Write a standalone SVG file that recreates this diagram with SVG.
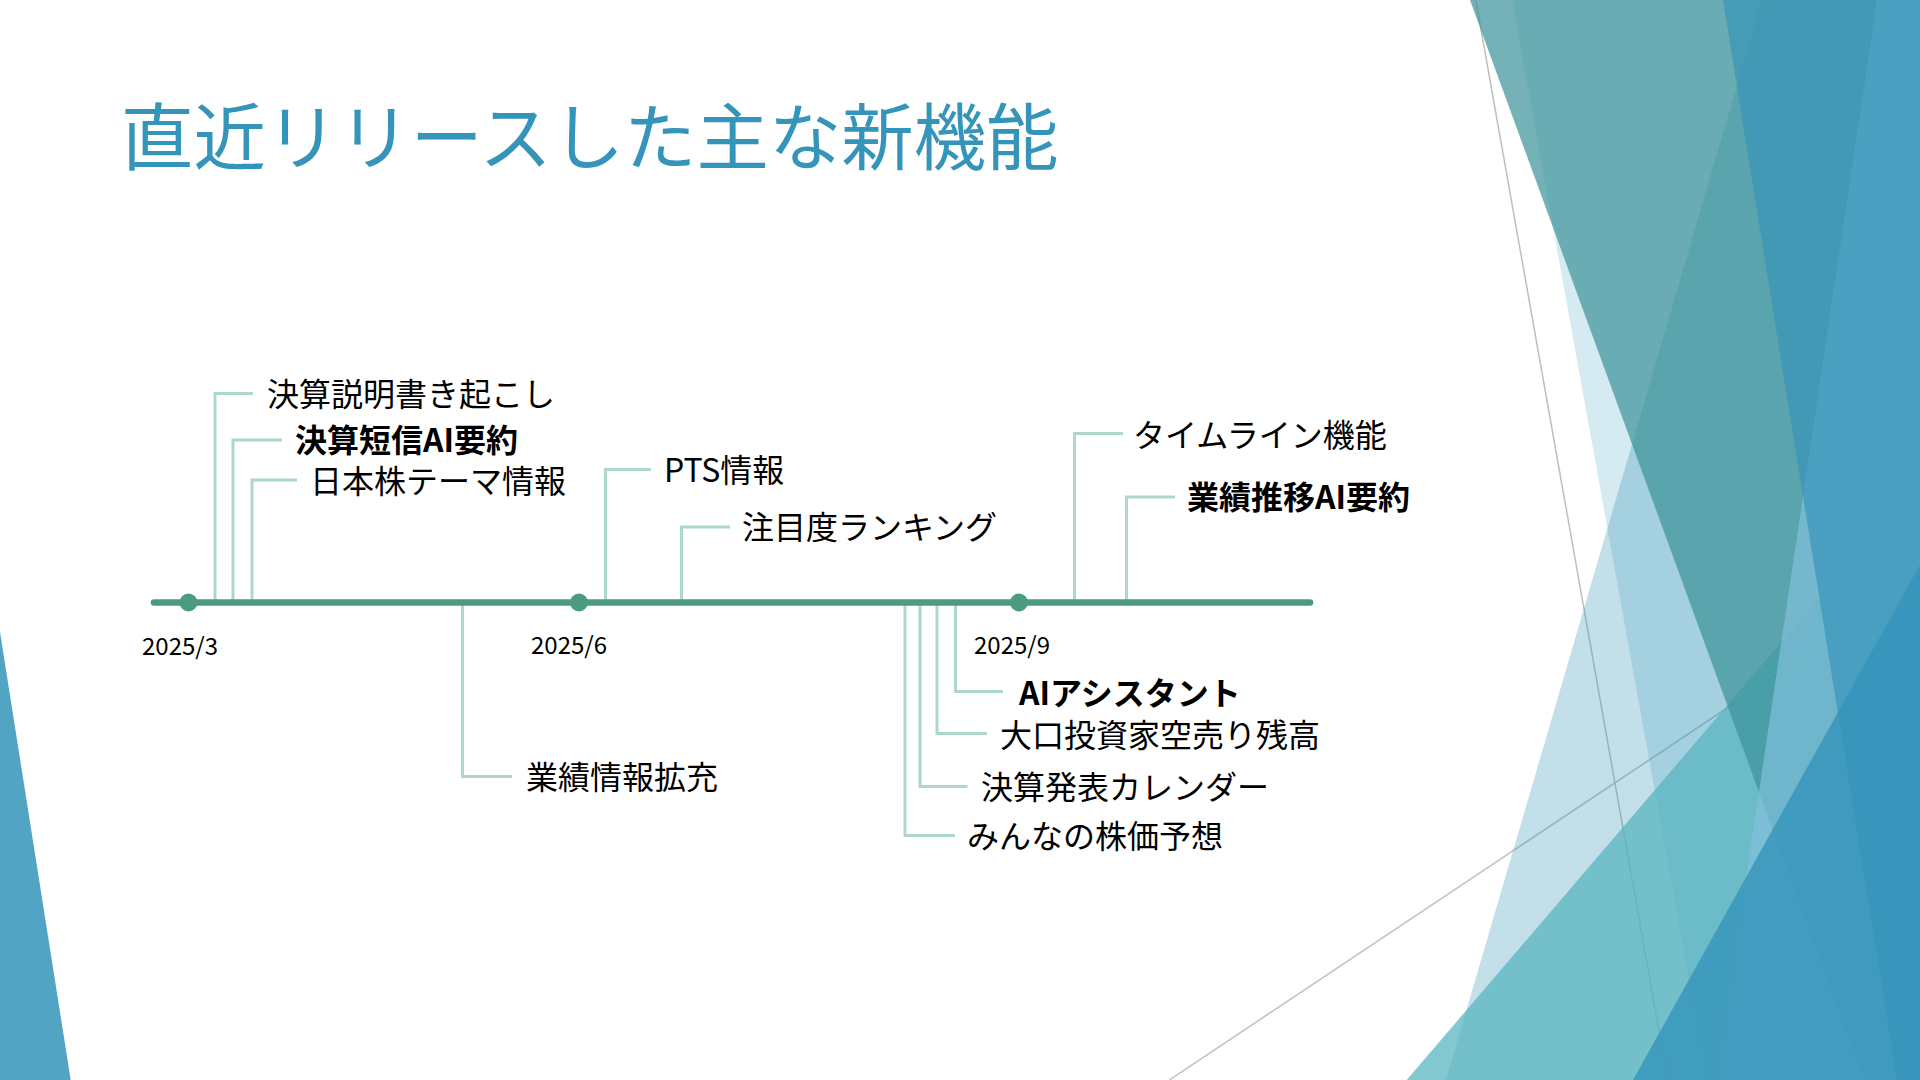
<svg xmlns="http://www.w3.org/2000/svg" width="1920" height="1080" viewBox="0 0 1920 1080">
  <style>
    .bgline { stroke: #bfbfbf; stroke-width: 1.5; fill: none; }
    .a1 { fill: #3494BA; }
    .title { font-family: "Noto Sans CJK JP", "Noto Sans", sans-serif; font-size: 72.4px; fill: #3494BA; }
    .lbl { font-family: "Noto Sans CJK JP", "Noto Sans", sans-serif; font-size: 32px; fill: #000000; }
    .b { font-weight: bold; }
    .date { font-family: "Noto Sans CJK JP", "Noto Sans", sans-serif; font-size: 24px; fill: #000000; }
    .conn { stroke: #acd7ca; stroke-width: 3; fill: none; stroke-linejoin: miter; }
    .axis { stroke: #4a9b82; stroke-width: 6.5; stroke-linecap: round; fill: none; }
    .dot { fill: #4a9b82; }
  </style>
  <rect x="0" y="0" width="1920" height="1080" fill="#ffffff"/>
  <g id="background">
    <line class="bgline" x1="1475.75" y1="0" x2="1667.75" y2="1080"/>
    <line class="bgline" x1="1919.5" y1="579.75" x2="1169.3" y2="1080"/>
    <polygon class="a1" fill-opacity="0.3" points="1762,0 1920,0 1920,1080 1446,1080"/>
    <polygon class="a1" fill-opacity="0.2" points="1512,0 1920,0 1920,1080 1707,1080"/>
    <polygon fill="#58B6C0" fill-opacity="0.75" points="1406.7,1080 1920,480 1920,1080"/>
    <polygon fill="#3A9198" fill-opacity="0.7" points="1470,0 1920,0 1920,1080 1864,1080"/>
    <polygon fill="#80C1DB" fill-opacity="0.7" points="1877,0 1920,0 1920,1080 1716,1080"/>
    <polygon class="a1" fill-opacity="0.65" points="1723,0 1920,0 1920,1080 1897,1080"/>
    <polygon class="a1" fill-opacity="0.8" points="1633,1080 1920,565 1920,1080"/>
    <polygon class="a1" fill-opacity="0.85" points="0,632 70.7,1080 0,1080"/>
  </g>
  <g id="title">
    <text class="title" x="121" y="164">直近リリースした主な新機能</text>
  </g>
  <g id="connectors">
    <polyline class="conn" points="215,602 215,393.5 253,393.5"/>
    <polyline class="conn" points="233,602 233,440 282,440"/>
    <polyline class="conn" points="252,602 252,480 297,480"/>
    <polyline class="conn" points="605.5,602 605.5,469.5 651,469.5"/>
    <polyline class="conn" points="681.5,602 681.5,527 730,527"/>
    <polyline class="conn" points="462.5,602 462.5,776.5 512,776.5"/>
    <polyline class="conn" points="1074.5,602 1074.5,433.5 1123,433.5"/>
    <polyline class="conn" points="1126.5,602 1126.5,497 1175,497"/>
    <polyline class="conn" points="955.5,602 955.5,691.5 1003,691.5"/>
    <polyline class="conn" points="937,602 937,733.5 987,733.5"/>
    <polyline class="conn" points="920,602 920,786.5 967.5,786.5"/>
    <polyline class="conn" points="905,602 905,835.5 955,835.5"/>
  </g>
  <g id="timeline">
    <line class="axis" x1="154" y1="602.5" x2="1310" y2="602.5"/>
  </g>
  <g id="m-2025-3">
    <circle class="dot" cx="188.5" cy="602.5" r="9"/>
    <text class="date" x="142" y="655">2025/3</text>
  </g>
  <g id="m-2025-6">
    <circle class="dot" cx="579" cy="602.5" r="9"/>
    <text class="date" x="531" y="654">2025/6</text>
  </g>
  <g id="m-2025-9">
    <circle class="dot" cx="1019" cy="602.5" r="9"/>
    <text class="date" x="974" y="654">2025/9</text>
  </g>
  <g id="n-kessan-kakiokoshi"><text class="lbl" x="267" y="405.5">決算説明書き起こし</text></g>
  <g id="n-tanshin-ai"><text class="lbl b" x="295" y="451.5">決算短信AI要約</text></g>
  <g id="n-theme"><text class="lbl" x="310" y="493">日本株テーマ情報</text></g>
  <g id="n-pts"><text class="lbl" x="664" y="482">PTS情報</text></g>
  <g id="n-ranking"><text class="lbl" x="742" y="539">注目度ランキング</text></g>
  <g id="n-gyoseki"><text class="lbl" x="526" y="788.5">業績情報拡充</text></g>
  <g id="n-timeline"><text class="lbl" x="1133" y="447">タイムライン機能</text></g>
  <g id="n-suii-ai"><text class="lbl b" x="1187" y="509">業績推移AI要約</text></g>
  <g id="n-assistant"><text class="lbl b" x="1019" y="705">AIアシスタント</text></g>
  <g id="n-karauri"><text class="lbl" x="1000" y="747">大口投資家空売り残高</text></g>
  <g id="n-calendar"><text class="lbl" x="981" y="799">決算発表カレンダー</text></g>
  <g id="n-yosou"><text class="lbl" x="967" y="848">みんなの株価予想</text></g>
</svg>
